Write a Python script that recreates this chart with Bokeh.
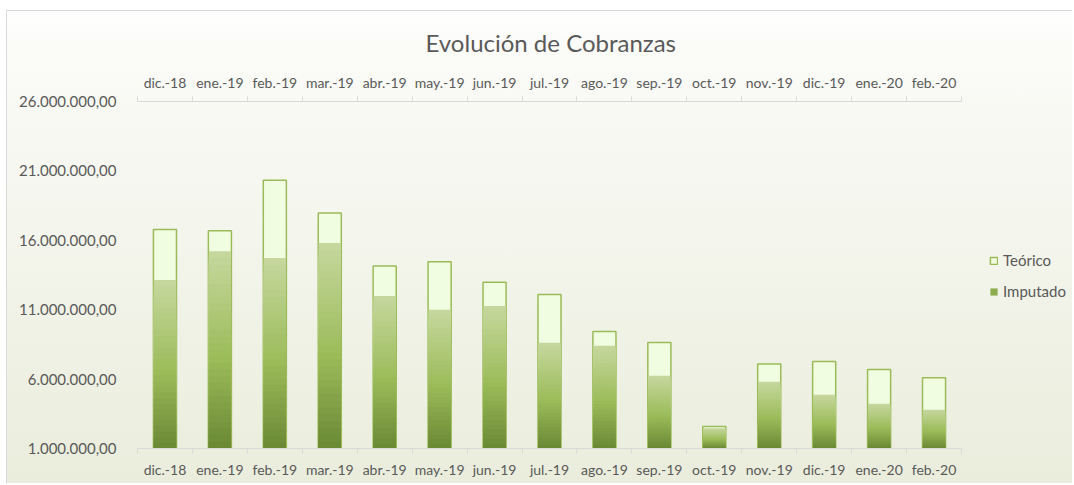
import numpy as np
from bokeh.plotting import figure
from bokeh.models import (ColumnDataSource, FixedTicker, LinearAxis, Legend,
                          LegendItem, Range1d)
from bokeh.embed import file_html
from bokeh.resources import INLINE
from bokeh.core.properties import value

# ---- data ----
title_text = "Evolución de Cobranzas"
months = ["dic.-18", "ene.-19", "feb.-19", "mar.-19", "abr.-19", "may.-19",
          "jun.-19", "jul.-19", "ago.-19", "sep.-19", "oct.-19", "nov.-19",
          "dic.-19", "ene.-20", "feb.-20"]
teorico = [16780000, 16680000, 20320000, 17970000, 14150000, 14460000,
           12970000, 12090000, 9430000, 8640000, 2580000, 7080000,
           7270000, 6700000, 6100000]
imputado = [13140000, 15220000, 14720000, 15800000, 11990000, 10990000,
            11270000, 8610000, 8400000, 6240000, 2460000, 5810000,
            4880000, 4230000, 3800000]
y_ticks = [1000000, 6000000, 11000000, 16000000, 21000000, 26000000]
y_tick_labels = ["1.000.000,00", "6.000.000,00", "11.000.000,00",
                 "16.000.000,00", "21.000.000,00", "26.000.000,00"]
base_value = 1000000

FONT = "Lato"
TXT = "#595959"
AXC = "#d9d9d9"

W, H = 1066, 473
LEFT, RIGHT_GAP, TOP, BOTTOM = 130, 0, 89, 36
CAT_PX = 824  # pixel width of the category area

n = len(months)
xc = [i + 0.5 for i in range(n)]
frame_w = W - LEFT - RIGHT_GAP
x_end = n * frame_w / CAT_PX

p = figure(width=W, height=H, output_backend="svg", toolbar_location=None,
           x_range=Range1d(0, x_end), y_range=Range1d(y_ticks[0], y_ticks[-1]),
           x_axis_location=None, y_axis_location=None,
           min_border_left=LEFT, min_border_right=RIGHT_GAP, min_border_top=TOP,
           min_border_bottom=BOTTOM)
p.xgrid.visible = False
p.ygrid.visible = False
p.outline_line_color = None
p.border_fill_alpha = 0
p.background_fill_alpha = 0
p.styles = {"background": "linear-gradient(to bottom, #ffffff 0%, #fbfbf8 8%, #eaeddc 100%)",
            "border-top": "1px solid #d9d9d9", "border-left": "1px solid #d9d9d9",
            "margin-left": "6px", "margin-top": "10px"}

p.title.text = title_text
p.title.align = "left"
p.title.offset = CAT_PX / 2 - 124
p.title.text_font = FONT
p.title.text_font_size = "24px"
p.title.text_font_style = "normal"
p.title.text_color = TXT
p.title.standoff = 28

# y axis
yax = LinearAxis(ticker=FixedTicker(ticks=y_ticks),
                 major_label_overrides={t: l for t, l in zip(y_ticks, y_tick_labels)})
yax.axis_line_color = None
yax.major_tick_line_color = None
yax.minor_tick_line_color = None
yax.major_label_standoff = 15
yax.major_label_text_font = FONT
yax.major_label_text_font_size = "15px"
yax.major_label_text_color = TXT
p.add_layout(yax, "left")

def cat_axis(standoff):
    ax = LinearAxis(ticker=FixedTicker(ticks=xc, minor_ticks=list(range(n + 1))),
                    major_label_overrides={float(x): m for x, m in zip(xc, months)},
                    bounds=(0, n))
    ax.axis_line_color = AXC
    ax.major_tick_line_color = None
    ax.minor_tick_line_color = AXC
    ax.minor_tick_in = 0
    ax.minor_tick_out = 5
    ax.major_label_standoff = standoff
    ax.major_label_text_font = FONT
    ax.major_label_text_font_size = "14px"
    ax.major_label_text_color = TXT
    return ax

p.add_layout(cat_axis(6), "below")
p.add_layout(cat_axis(5), "above")

BW = 0.42
r_teo = p.vbar(x=xc, top=teorico, bottom=base_value, width=BW,
               fill_color="#f0fde0", line_color="#9bbb59", line_width=1.5)

# gradient fill for Imputado bars (light top -> dark bottom), painted as nested bars
stops = [(0.0, (0x6a, 0x88, 0x34)), (0.45, (0x9b, 0xbb, 0x59)), (1.0, (0xc6, 0xd8, 0x9e))]
def grad(t):
    for (t0, c0), (t1, c1) in zip(stops[:-1], stops[1:]):
        if t <= t1:
            f = (t - t0) / (t1 - t0)
            return "#%02x%02x%02x" % tuple(int(round(a + (b - a) * f)) for a, b in zip(c0, c1))
    return "#%02x%02x%02x" % stops[-1][1]

NSEG = 30
sx, sb, st, sc = [], [], [], []
for k in range(NSEG - 1, -1, -1):
    for x, v in zip(xc, imputado):
        sx.append(x)
        sb.append(base_value)
        st.append(base_value + (v - base_value) * (k + 1) / NSEG)
        sc.append(grad((k + 0.5) / NSEG))
src = ColumnDataSource(dict(x=sx, bottom=sb, top=st, color=sc))
r_imp = p.vbar(x="x", bottom="bottom", top="top", width=BW - 0.015, source=src,
               fill_color="color", line_color=None)

legend = Legend(items=[LegendItem(label="Teórico", renderers=[r_teo]),
                       LegendItem(label="Imputado", renderers=[r_imp], index=20 * n)],
                location=(CAT_PX + 28, 148))
legend.label_text_font = FONT
legend.label_text_font_size = "15px"
legend.label_text_color = TXT
legend.background_fill_alpha = 0
legend.border_line_color = None
legend.glyph_width = 9
legend.glyph_height = 9
legend.label_standoff = 5
legend.spacing = 13
legend.padding = 0
legend.margin = 0
p.add_layout(legend)

open("out.html", "w").write(file_html(p, INLINE))
